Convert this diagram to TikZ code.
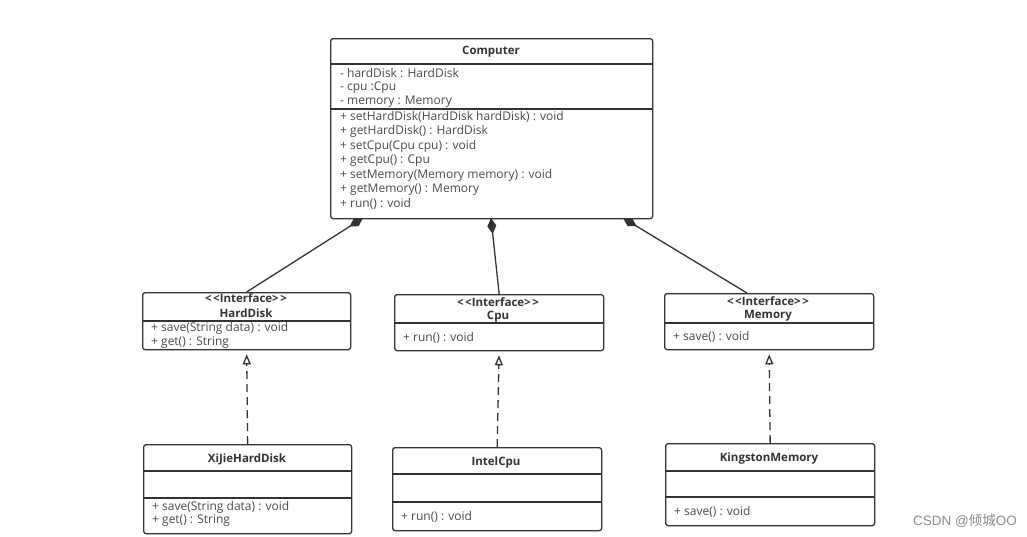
\documentclass[tikz,border=0pt]{standalone}
\usepackage{fontspec}
\setmainfont{Open Sans}
\newfontfamily\cjkfont{Noto Sans CJK SC}
\newfontfamily\wmfont{Liberation Sans}
\usetikzlibrary{arrows.meta,calc}
\definecolor{linec}{HTML}{333333}
\definecolor{txtc}{HTML}{4A4A4A}
\newcommand{\ifc}{{<}\kern1.5pt{<}Interface{>}\kern1.5pt{>}}
\begin{document}
\begin{tikzpicture}[x=1pt,y=-1pt,
 umlbox/.style={draw=linec,line width=1.3pt,rounded corners=2.5pt,fill=white,inner sep=0,anchor=north west},
 divider/.style={draw=linec,line width=1.1pt},
 member/.style={anchor=west,inner sep=0,text=txtc,font=\fontsize{12}{14}\selectfont},
 ttl/.style={anchor=center,inner sep=0,text=linec,font=\fontsize{11.5}{13}\selectfont\bfseries},
 compose/.style={draw=linec,line width=1.3pt,{Diamond[length=16pt,width=9pt,fill=linec]}-},
 realize/.style={draw=linec,line width=1.3pt,dash pattern=on 8pt off 5pt,-{Triangle[open,length=10pt,width=8pt,fill=white]},shorten >=4pt},
]
\useasboundingbox[fill=white] (0,0) rectangle (1027,536);

% ---------- Computer ----------
\node[umlbox,minimum width=322pt,minimum height=180pt] (comp) at (330,38) {};
\draw[divider] (330,64) -- (652,64);
\draw[divider] (330,109) -- (652,109);
\node[ttl] (compT) at (491,52) {Computer};
\node[member] (ca1) at (340,73) {- hardDisk : HardDisk};
\node[member] (ca2) at (340,88) {- cpu :Cpu};
\node[member] (ca3) at (340,102) {- memory : Memory};
\node[member] (cm1) at (340,117) {+ setHardDisk(HardDisk hardDisk) : void};
\node[member] (cm2) at (340,131.5) {+ getHardDisk() : HardDisk};
\node[member] (cm3) at (340,146) {+ setCpu(Cpu cpu) : void};
\node[member] (cm4) at (340,160.5) {+ getCpu() : Cpu};
\node[member] (cm5) at (340,175) {+ setMemory(Memory memory) : void};
\node[member] (cm6) at (340,189.5) {+ getMemory() : Memory};
\node[member] (cm7) at (340,204) {+ run() : void};

% ---------- HardDisk interface ----------
\node[umlbox,minimum width=208pt,minimum height=57pt] (hd) at (142,292) {};
\draw[divider] (142,321) -- (350,321);
\node[ttl] (hdS) at (246,298) {\ifc};
\node[ttl] (hdT) at (246,313) {HardDisk};
\node[member] (hdm1) at (151,328) {+ save(String data) : void};
\node[member] (hdm2) at (151,343) {+ get() : String};

% ---------- Cpu interface ----------
\node[umlbox,minimum width=209pt,minimum height=56pt] (cpu) at (394,294) {};
\draw[divider] (394,323) -- (603,323);
\node[ttl] (cpuS) at (498,302) {\ifc};
\node[ttl] (cpuT) at (498,317) {Cpu};
\node[member] (cpum1) at (403,338) {+ run() : void};

% ---------- Memory interface ----------
\node[umlbox,minimum width=209pt,minimum height=56pt] (mem) at (664,293) {};
\draw[divider] (664,323) -- (873,323);
\node[ttl] (memS) at (768,301) {\ifc};
\node[ttl] (memT) at (768,316) {Memory};
\node[member] (memm1) at (673,337) {+ save() : void};

% ---------- XiJieHardDisk ----------
\node[umlbox,minimum width=208pt,minimum height=89pt] (xj) at (143,444) {};
\draw[divider] (143,471) -- (351,471);
\draw[divider] (143,498) -- (351,498);
\node[ttl] (xjT) at (247,459) {XiJieHardDisk};
\node[member] (xjm1) at (152,507) {+ save(String data) : void};
\node[member] (xjm2) at (152,521) {+ get() : String};

% ---------- IntelCpu ----------
\node[umlbox,minimum width=209pt,minimum height=83pt] (ic) at (392,447) {};
\draw[divider] (392,474) -- (601,474);
\draw[divider] (392,502) -- (601,502);
\node[ttl] (icT) at (496,463) {IntelCpu};
\node[member] (icm1) at (401,517) {+ run() : void};

% ---------- KingstonMemory ----------
\node[umlbox,minimum width=209pt,minimum height=82pt] (km) at (665,443) {};
\draw[divider] (665,471) -- (874,471);
\draw[divider] (665,497) -- (874,497);
\node[ttl] (kmT) at (769,459) {KingstonMemory};
\node[member] (kmm1) at (674,512) {+ save() : void};

% ---------- composition ----------
\coordinate (cHD) at (363,218);
\coordinate (cCPU) at (491,218);
\coordinate (cMEM) at (623,218);
\coordinate (memTop) at (747,293);
\draw[compose] (cHD) -- (hd.north);
\draw[compose] (cCPU) -- (cpu.north);
\draw[compose] (cMEM) -- (memTop);

% ---------- realization ----------
\draw[realize] (xj.north) -- (hd.south);
\draw[realize] (ic.north) -- (cpu.south);
\draw[realize] (km.north) -- (mem.south);

% ---------- watermark ----------
\node[text=black!45,inner sep=0,font=\wmfont\fontsize{13.5}{15}\selectfont] (wm) at (965,521) {CSDN @{\cjkfont 倾城}OO};
\end{tikzpicture}
\end{document}
